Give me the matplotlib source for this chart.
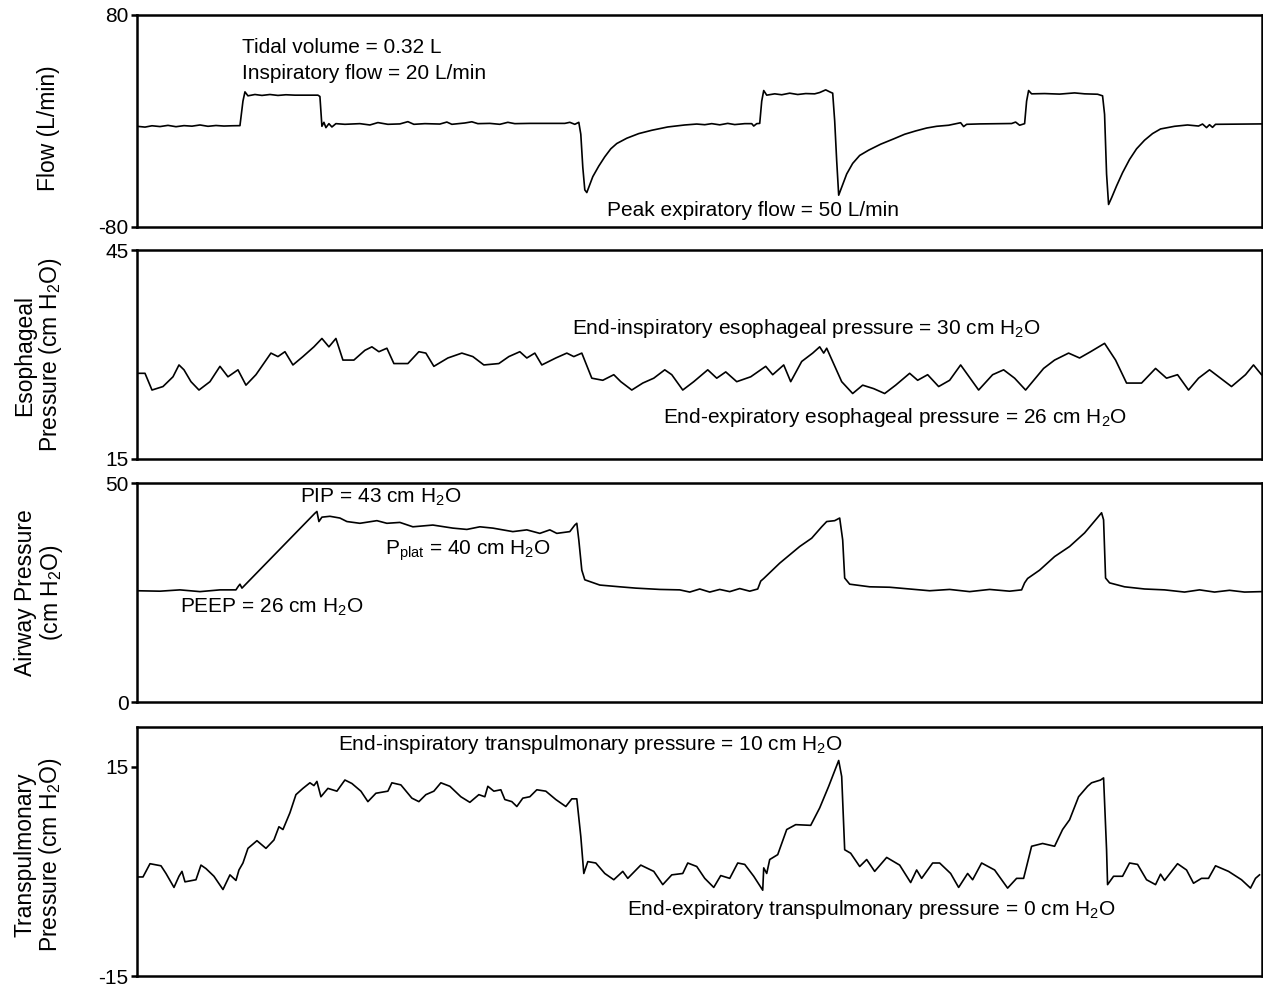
#!/usr/bin/env python3
import matplotlib
matplotlib.use("Agg")
import matplotlib.pyplot as plt
import numpy as np

plt.rcParams['font.family'] = ['Liberation Sans', 'DejaVu Sans']
plt.rcParams['mathtext.fontset'] = 'custom'
plt.rcParams['mathtext.rm'] = 'Liberation Sans'
plt.rcParams['mathtext.default'] = 'regular'

# ====== traces (time in s, value) ======
flow_pts = [
    (0.00, -4.0), (0.08, -4.6), (0.15, -3.6), (0.23, -4.2), (0.31, -3.3), (0.39, -4.3),
    (0.47, -3.5), (0.55, -3.9), (0.63, -3.0), (0.71, -4.0), (0.79, -3.4), (0.87, -3.8),
    (0.95, -3.6), (1.03, -3.5), (1.06, 15.0), (1.08, 22.0), (1.11, 19.0), (1.18, 20.0),
    (1.25, 19.3), (1.33, 20.0), (1.41, 19.3), (1.49, 19.8), (1.58, 19.5), (1.81, 19.5),
    (1.83, 18.5), (1.85, -4.0), (1.87, -1.0), (1.89, -5.0), (1.92, -2.0), (1.95, -4.5),
    (1.99, -2.0), (2.08, -2.5), (2.23, -2.0), (2.33, -3.0), (2.41, -1.2), (2.51, -2.5),
    (2.63, -2.2), (2.71, -0.5), (2.77, -2.5), (2.88, -2.0), (3.03, -2.3), (3.10, -0.8),
    (3.15, -2.5), (3.28, -1.5), (3.35, -0.6), (3.41, -2.0), (3.53, -1.8), (3.63, -2.5),
    (3.71, -1.0), (3.78, -2.0), (3.93, -1.8), (4.28, -1.8), (4.33, -1.0), (4.38, -2.5),
    (4.42, -1.0), (4.44, -10.0), (4.46, -35.0), (4.48, -52.0), (4.50, -54.0), (4.52, -50.0),
    (4.56, -42.0), (4.62, -34.0), (4.68, -27.0), (4.74, -21.0), (4.80, -17.0), (4.90, -13.0),
    (5.02, -9.5), (5.15, -7.0), (5.31, -4.5), (5.48, -3.0), (5.60, -2.3), (5.68, -2.8),
    (5.75, -2.0), (5.83, -2.9), (5.91, -1.8), (5.98, -2.7), (6.08, -2.0), (6.15, -2.0),
    (6.17, -3.8), (6.20, -2.0), (6.23, -1.8), (6.25, 15.0), (6.27, 23.0), (6.30, 19.5),
    (6.38, 20.5), (6.45, 19.8), (6.53, 21.0), (6.61, 20.0), (6.69, 20.7), (6.78, 20.5),
    (6.83, 21.5), (6.89, 23.5), (6.93, 22.0), (6.96, 21.0), (6.98, 0.0), (7.00, -30.0),
    (7.02, -56.0), (7.05, -50.0), (7.10, -40.0), (7.16, -32.0), (7.23, -26.0), (7.32, -22.0),
    (7.44, -17.5), (7.57, -13.5), (7.68, -10.0), (7.79, -7.5), (7.90, -5.3), (8.00, -4.0),
    (8.12, -3.2), (8.24, -1.3), (8.27, -4.2), (8.30, -2.5), (8.43, -2.2), (8.63, -2.0),
    (8.75, -1.9), (8.79, -0.8), (8.83, -3.2), (8.88, -2.0), (8.90, 15.0), (8.92, 23.0),
    (8.95, 20.5), (9.08, 20.7), (9.23, 20.3), (9.38, 21.2), (9.48, 20.5), (9.61, 20.2),
    (9.66, 19.0), (9.68, 5.0), (9.70, -40.0), (9.72, -63.0), (9.75, -58.0), (9.80, -49.0),
    (9.86, -39.0), (9.93, -29.0), (10.00, -21.0), (10.08, -14.5), (10.16, -9.5),
    (10.24, -6.0), (10.38, -4.0), (10.51, -3.0), (10.62, -3.8), (10.66, -2.3),
    (10.70, -5.0), (10.73, -2.8), (10.76, -4.8), (10.79, -2.5), (10.93, -2.4), (11.25, -2.2),
]

eso_pts = [
    (0.00, 27.3), (0.08, 27.3), (0.15, 24.9), (0.26, 25.4), (0.36, 26.8), (0.42, 28.5),
    (0.47, 27.8), (0.54, 26.1), (0.62, 24.9), (0.73, 26.1), (0.83, 28.3), (0.91, 26.8),
    (0.94, 27.1), (1.01, 27.8), (1.09, 25.6), (1.19, 27.1), (1.34, 30.2), (1.41, 29.7),
    (1.48, 30.4), (1.56, 28.5), (1.66, 29.7), (1.77, 31.1), (1.85, 32.3), (1.92, 31.1),
    (1.99, 32.3), (2.06, 29.2), (2.17, 29.2), (2.28, 30.6), (2.35, 31.1), (2.42, 30.4),
    (2.50, 30.9), (2.57, 28.7), (2.71, 28.7), (2.82, 30.4), (2.89, 30.2), (2.97, 28.3),
    (3.11, 29.5), (3.25, 30.2), (3.36, 29.7), (3.47, 28.5), (3.62, 28.7), (3.72, 29.7),
    (3.83, 30.4), (3.90, 29.5), (3.98, 30.2), (4.05, 28.5), (4.19, 29.5), (4.30, 30.2),
    (4.37, 29.7), (4.45, 30.2), (4.55, 26.6), (4.66, 26.3), (4.77, 27.1), (4.84, 26.1),
    (4.95, 24.9), (5.06, 25.9), (5.17, 26.6), (5.28, 27.8), (5.35, 27.1), (5.46, 24.9),
    (5.57, 26.1), (5.71, 27.8), (5.80, 26.6), (5.89, 27.5), (6.00, 26.1), (6.14, 26.8),
    (6.29, 28.3), (6.36, 27.1), (6.47, 28.5), (6.54, 26.1), (6.65, 29.0), (6.76, 30.2),
    (6.83, 31.1), (6.87, 30.2), (6.90, 30.9), (7.05, 26.1), (7.16, 24.4), (7.26, 25.6),
    (7.37, 25.1), (7.48, 24.4), (7.59, 25.6), (7.73, 27.3), (7.81, 26.3), (7.91, 27.1),
    (8.02, 25.4), (8.13, 26.3), (8.24, 28.5), (8.31, 27.1), (8.42, 24.9), (8.56, 27.1),
    (8.67, 27.8), (8.78, 26.6), (8.89, 24.9), (9.07, 28.0), (9.18, 29.2), (9.32, 30.2),
    (9.43, 29.5), (9.54, 30.4), (9.68, 31.6), (9.79, 29.2), (9.90, 25.9), (10.05, 25.9),
    (10.19, 28.0), (10.30, 26.6), (10.41, 27.1), (10.52, 24.9), (10.62, 26.6), (10.73, 27.8),
    (10.84, 26.6), (10.95, 25.4), (11.09, 27.1), (11.17, 28.5), (11.25, 27.1),
]

paw_pts = [
    (0.00, 25.4), (0.23, 25.3), (0.43, 25.6), (0.63, 25.2), (0.83, 25.6), (0.99, 25.6),
    (1.01, 26.3), (1.03, 26.9), (1.05, 26.0), (1.78, 43.1), (1.80, 43.5), (1.82, 41.2),
    (1.85, 42.2), (1.93, 42.4), (2.03, 42.0), (2.10, 41.2), (2.23, 40.8), (2.40, 41.4),
    (2.50, 40.8), (2.63, 41.0), (2.76, 40.0), (2.96, 40.4), (3.16, 39.7), (3.30, 39.4),
    (3.43, 40.0), (3.56, 39.7), (3.76, 38.9), (3.90, 39.3), (4.03, 38.5), (4.13, 39.3),
    (4.20, 38.5), (4.33, 38.9), (4.38, 40.4), (4.40, 40.8), (4.42, 37.0), (4.45, 30.1),
    (4.48, 27.9), (4.63, 26.7), (4.83, 26.3), (4.99, 26.0), (5.23, 25.7), (5.43, 25.6),
    (5.53, 25.1), (5.63, 25.8), (5.73, 25.1), (5.83, 25.7), (5.93, 25.2), (6.03, 25.9),
    (6.13, 25.3), (6.21, 25.8), (6.24, 27.6), (6.27, 28.2), (6.43, 31.7), (6.63, 35.5),
    (6.75, 37.4), (6.85, 40.0), (6.90, 41.2), (6.98, 41.4), (7.03, 42.0), (7.06, 37.0),
    (7.08, 28.3), (7.13, 26.9), (7.33, 26.3), (7.53, 26.2), (7.73, 25.8), (7.93, 25.4),
    (8.13, 25.7), (8.33, 25.2), (8.53, 25.7), (8.73, 25.3), (8.85, 25.6), (8.88, 27.2),
    (8.91, 28.2), (9.03, 30.1), (9.18, 33.2), (9.33, 35.5), (9.48, 38.6), (9.58, 41.3),
    (9.65, 43.2), (9.67, 41.6), (9.69, 28.3), (9.73, 27.2), (9.88, 26.3), (10.08, 25.8),
    (10.28, 25.6), (10.48, 25.1), (10.63, 25.6), (10.78, 25.1), (10.93, 25.5),
    (11.08, 25.1), (11.25, 25.2),
]

ptp_pts = [
    (0.00, -0.8), (0.06, -0.8), (0.13, 1.1), (0.24, 0.8), (0.29, -0.3), (0.37, -2.3),
    (0.42, -0.7), (0.45, 0.0), (0.48, -1.5), (0.59, -1.2), (0.64, 0.9), (0.69, 0.4),
    (0.77, -0.7), (0.86, -2.6), (0.93, -0.5), (0.99, -1.3), (1.02, 0.2), (1.06, 1.2),
    (1.11, 3.3), (1.20, 4.4), (1.29, 3.3), (1.37, 4.5), (1.42, 6.4), (1.46, 6.0),
    (1.53, 8.4), (1.59, 11.0), (1.66, 11.9), (1.73, 12.7), (1.77, 12.3), (1.80, 12.9),
    (1.84, 10.7), (1.91, 11.9), (2.00, 11.5), (2.08, 13.1), (2.15, 12.6), (2.24, 11.5),
    (2.31, 10.0), (2.39, 11.2), (2.51, 11.5), (2.55, 12.7), (2.64, 12.4), (2.75, 10.5),
    (2.82, 10.0), (2.89, 11.0), (2.97, 11.5), (3.04, 12.7), (3.13, 12.2), (3.24, 10.7),
    (3.33, 9.9), (3.42, 11.0), (3.48, 10.7), (3.51, 12.2), (3.57, 11.5), (3.64, 11.7),
    (3.68, 10.3), (3.75, 10.0), (3.80, 9.3), (3.86, 10.5), (3.93, 10.7), (4.00, 11.7),
    (4.09, 11.5), (4.19, 10.3), (4.29, 9.3), (4.35, 10.4), (4.40, 10.4), (4.44, 5.0),
    (4.47, -0.3), (4.51, 1.4), (4.59, 1.2), (4.68, -0.3), (4.77, -1.2), (4.86, 0.0),
    (4.91, -1.0), (5.04, 0.9), (5.17, 0.0), (5.26, -1.9), (5.35, -0.5), (5.46, -0.3),
    (5.51, 1.2), (5.60, 0.7), (5.68, -1.0), (5.77, -2.3), (5.84, -0.6), (5.93, -1.0),
    (6.01, 1.2), (6.08, 1.0), (6.17, -0.7), (6.26, -2.7), (6.27, 0.5), (6.30, -0.3),
    (6.33, 1.7), (6.41, 2.4), (6.50, 6.0), (6.59, 6.7), (6.74, 6.6), (6.83, 9.1),
    (6.92, 12.2), (6.99, 14.8), (7.02, 15.9), (7.05, 13.6), (7.08, 3.1), (7.14, 2.6),
    (7.23, 0.7), (7.30, 1.7), (7.38, 0.0), (7.50, 2.0), (7.63, 0.9), (7.74, -1.6),
    (7.80, 0.2), (7.85, -1.0), (7.96, 1.2), (8.03, 1.2), (8.14, -0.3), (8.22, -2.3),
    (8.31, -0.3), (8.36, -1.2), (8.45, 1.2), (8.58, 0.2), (8.71, -2.4), (8.80, -1.0),
    (8.87, -1.0), (8.95, 3.6), (9.06, 4.0), (9.18, 3.6), (9.26, 6.0), (9.33, 7.4),
    (9.42, 10.7), (9.51, 12.2), (9.55, 12.7), (9.64, 13.1), (9.67, 13.4), (9.70, 3.1),
    (9.71, -1.9), (9.77, -0.7), (9.86, -0.7), (9.93, 1.2), (10.01, 1.0), (10.10, -1.2),
    (10.19, -1.9), (10.24, -0.4), (10.28, -1.3), (10.41, 1.1), (10.50, 0.2), (10.57, -1.7),
    (10.65, -1.0), (10.72, -1.0), (10.79, 0.8), (10.92, 0.0), (11.05, -1.2), (11.14, -2.4),
    (11.19, -1.0), (11.23, -0.5),
]

ylabels = ["Flow (L/min)", "Esophageal\nPressure (cm H$_2$O)",
           "Airway Pressure\n(cm H$_2$O)", "Transpulmonary\nPressure (cm H$_2$O)"]
ylims = [(-80, 80), (15, 45), (0, 50), (-15, 20.7)]
yticks = [[-80, 80], [15, 45], [0, 50], [-15, 15]]

notes = [
    [(1.05, 55.8, "Tidal volume = 0.32 L"),
     (1.05, 36.2, "Inspiratory flow = 20 L/min"),
     (4.70, -67.9, "Peak expiratory flow = 50 L/min")],
    [(4.35, 33.7, "End-inspiratory esophageal pressure = 30 cm H$_2$O"),
     (5.26, 20.9, "End-expiratory esophageal pressure = 26 cm H$_2$O")],
    [(1.63, 46.8, "PIP = 43 cm H$_2$O"),
     (2.48, 34.5, "P$_{plat}$ = 40 cm H$_2$O"),
     (0.43, 21.5, "PEEP = 26 cm H$_2$O")],
    [(2.01, 18.2, "End-inspiratory transpulmonary pressure = 10 cm H$_2$O"),
     (4.90, -5.5, "End-expiratory transpulmonary pressure = 0 cm H$_2$O")],
]

W, H = 1263, 985
# panel boxes in pixels: (top, bottom)
boxes = [(15, 227), (250, 459), (483, 702), (727, 976)]
label_pos = [(48, 128), (39, 355), (40, 593), (39, 855)]


def main():
    fig = plt.figure(figsize=(W / 100, H / 100), dpi=100)
    traces = [flow_pts, eso_pts, paw_pts, ptp_pts]
    for i, pts in enumerate(traces):
        top, bot = boxes[i]
        ax = fig.add_axes([137 / W, 1 - bot / H, (1261.5 - 137) / W, (bot - top) / H])
        t, v = zip(*pts)
        ax.plot(t, v, color='black', lw=1.2)
        ax.set_xlim(0, 11.25)
        ax.set_ylim(*ylims[i])
        ax.set_yticks(yticks[i])
        ax.set_yticklabels([str(y) for y in yticks[i]])
        ax.set_xticks([])
        ax.tick_params(axis='y', length=4, width=1.8, labelsize=15, pad=2)
        for s in ax.spines.values():
            s.set_linewidth(1.8)
        for (x, y, s) in notes[i]:
            ax.text(x, y, s, fontsize=15, ha='left', va='center')
        lx, ly = label_pos[i]
        fig.text(lx / W, 1 - ly / H, ylabels[i], rotation=90, ha='center', va='center',
                 fontsize=16.5, multialignment='center', linespacing=1.05)

    plt.savefig('out.png', dpi=100)


if __name__ == '__main__':
    main()
